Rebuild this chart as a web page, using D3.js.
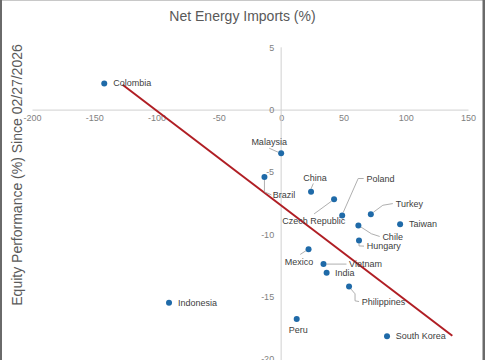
<!DOCTYPE html>
<html>
<head>
<meta charset="utf-8">
<script src="https://cdn.jsdelivr.net/npm/d3@7"></script>
<style>
  html, body { margin: 0; padding: 0; background: #fff; }
  svg { display: block; font-family: "Liberation Sans", Arial, sans-serif; }
</style>
</head>
<body>
<svg id="chart" width="485" height="360"></svg>
<script>
// ---- data ----
const countries = ["Colombia","Indonesia","Malaysia","Brazil","China","Czech Republic","Poland","Turkey","Taiwan","Chile","Hungary","Mexico","Vietnam","India","Philippines","Peru","South Korea"];
const netEnergyImports = [-142, -90, 0, -13.4, 24, 42.5, 49, 72, 95.5, 62, 62.5, 22, 34, 36.5, 54.5, 12.5, 85];
const equityPerformance = [2.1, -15.5, -3.5, -5.4, -6.6, -7.2, -8.5, -8.4, -9.2, -9.3, -10.5, -11.2, -12.4, -13.1, -14.2, -16.8, -18.2];
const trendX = [-127.3, 137.4];
const trendY = [2.0, -18.15];
const xTicks = [-200, -150, -100, -50, 0, 50, 100, 150];
const yTicks = [5, 0, -5, -10, -15, -20];

// ---- label layout (pixel offsets from point; leader polyline offsets) ----
const labelLayout = {
  "Colombia":       {dx: 9,   dy: 0,   anchor: "start"},
  "Indonesia":      {dx: 9,   dy: 0,   anchor: "start"},
  "Malaysia":       {dx: -12, dy: -11.5, anchor: "middle", leader: [[-12,-5],[-3,-1]]},
  "Brazil":         {dx: 8.4, dy: 18.3, anchor: "start", leader: [[0,3],[0,15],[7,18]]},
  "China":          {dx: 4,   dy: -14, anchor: "middle", leader: [[2.3,-8.4],[0,-3]]},
  "Czech Republic": {dx: -20.3, dy: 21.6, anchor: "middle", leader: [[-20,14.6],[-2.5,1.8]]},
  "Poland":         {dx: 24.4, dy: -36.6, anchor: "start", leader: [[1,-3],[16,-37],[21.5,-37]]},
  "Turkey":         {dx: 25,  dy: -10.7, anchor: "start", leader: [[2.5,-2],[12,-9],[22,-10.7]]},
  "Taiwan":         {dx: 9,   dy: 0,   anchor: "start"},
  "Chile":          {dx: 24,  dy: 11.7, anchor: "start", leader: [[2.5,1.5],[13,8.3],[21.3,11]]},
  "Hungary":        {dx: 7.7, dy: 6,   anchor: "start", leader: [[0,3],[0,5.5],[5,5.7]]},
  "Mexico":         {dx: -9.5, dy: 13, anchor: "middle", leader: [[-2.5,1.5],[-8.3,5.3]]},
  "Vietnam":        {dx: 25.6, dy: 0,  anchor: "start", leader: [[3,0],[23,0]]},
  "India":          {dx: 8.4, dy: 0.5, anchor: "start"},
  "Philippines":    {dx: 12.7, dy: 15, anchor: "start", leader: [[1.5,2],[6,7.3],[6,14.3],[10,15]]},
  "Peru":           {dx: 1.6, dy: 11,  anchor: "middle"},
  "South Korea":    {dx: 8.7, dy: 0,   anchor: "start"}
};

const W = 485, H = 360;
const svg = d3.select("#chart");

// frame
svg.append("rect").attr("x",0).attr("y",0).attr("width",W).attr("height",1).attr("fill","#c8c8c8");
svg.append("rect").attr("x",0).attr("y",0).attr("width",2).attr("height",H).attr("fill","#6a6a6a");
svg.append("rect").attr("x",W-2.5).attr("y",0).attr("width",2.5).attr("height",H).attr("fill","#6a6a6a");

const x = d3.scaleLinear().domain([-200, 150]).range([32, 468]);
const y = d3.scaleLinear().domain([-20, 5]).range([358.8, 47.3]);

// title
svg.append("text").attr("x", 242.5).attr("y", 16).attr("text-anchor","middle")
  .attr("dominant-baseline","central").attr("font-size", 14).attr("fill","#595959")
  .text("Net Energy Imports (%)");

// y title
svg.append("text").attr("transform","translate(17,175) rotate(-90)").attr("text-anchor","middle")
  .attr("dominant-baseline","central").attr("font-size", 14).attr("fill","#595959")
  .text("Equity Performance (%) Since 02/27/2026");

const fmt = d => String(d);

// x axis (at y=0)
const xAxis = d3.axisBottom(x).tickValues(xTicks).tickSize(0).tickPadding(5).tickFormat(fmt);
const gx = svg.append("g").attr("transform", `translate(0,${y(0)})`).call(xAxis);
gx.select(".domain").attr("stroke","#d0d0d0");
gx.selectAll("text").attr("font-size", 9).attr("fill","#7f7f7f").attr("font-family","Liberation Sans, Arial, sans-serif");

// y axis (at x=0)
const yAxis = d3.axisLeft(y).tickValues(yTicks).tickSize(0).tickPadding(7).tickFormat(fmt);
const gy = svg.append("g").attr("transform", `translate(${x(0)},0)`).call(yAxis);
gy.select(".domain").attr("stroke","#d0d0d0").attr("d", `M0,${y(5)}V${H+2}`);
gy.selectAll("text").attr("font-size", 9).attr("fill","#7f7f7f").attr("font-family","Liberation Sans, Arial, sans-serif");

const data = countries.map((c, i) => ({name: c, x: netEnergyImports[i], y: equityPerformance[i]}));

// trend line
const trend = trendX.map((v, i) => [v, trendY[i]]);
svg.append("path").datum(trend)
  .attr("d", d3.line().x(d => x(d[0])).y(d => y(d[1])))
  .attr("stroke","#b01e24").attr("stroke-width", 2).attr("fill","none");

// leader lines
const leaders = svg.append("g");
data.forEach(d => {
  const L = labelLayout[d.name];
  if (L && L.leader) {
    leaders.append("path")
      .datum(L.leader.map(p => [x(d.x) + p[0], y(d.y) + p[1]]))
      .attr("d", d3.line())
      .attr("stroke","#a6a6a6").attr("stroke-width", 0.9).attr("fill","none");
  }
});

// points
svg.append("g").selectAll("circle").data(data).join("circle")
  .attr("cx", d => x(d.x)).attr("cy", d => y(d.y)).attr("r", 3)
  .attr("fill","#1f6aa8");

// labels
svg.append("g").selectAll("text").data(data).join("text")
  .attr("x", d => x(d.x) + labelLayout[d.name].dx)
  .attr("y", d => y(d.y) + labelLayout[d.name].dy)
  .attr("text-anchor", d => labelLayout[d.name].anchor)
  .attr("dominant-baseline","central")
  .attr("font-size", 9).attr("fill","#404040")
  .text(d => d.name);
</script>
</body>
</html>
